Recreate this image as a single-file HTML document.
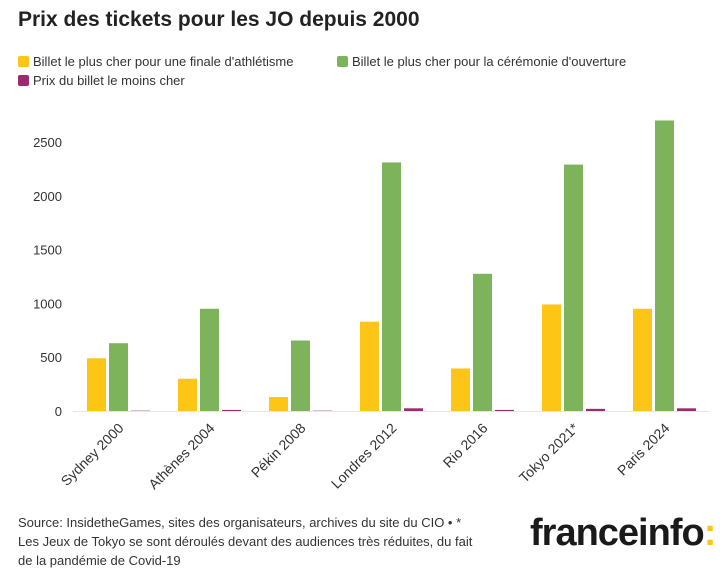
<!DOCTYPE html>
<html><head><meta charset="utf-8"><style>
body{margin:0;background:#fff;width:728px;height:587px;overflow:hidden;font-family:"Liberation Sans",sans-serif;color:#333;}
#title{position:absolute;left:18px;top:8px;font-size:21px;font-weight:bold;color:#222;}
.leg{position:absolute;font-size:13px;color:#333;display:flex;align-items:center;}
.sw{width:11px;height:11px;border-radius:2px;margin-right:4px;display:inline-block;}
#foot{position:absolute;left:18px;top:513px;font-size:13px;line-height:19px;color:#333;}
#logo{position:absolute;left:530px;top:512px;font-size:38px;font-weight:bold;color:#1a1a1a;letter-spacing:-1px;}
</style></head><body>
<div id="title">Prix des tickets pour les JO depuis 2000</div>
<div class="leg" style="left:18px;top:54px"><span class="sw" style="background:#fdc516"></span>Billet le plus cher pour une finale d'athlétisme</div>
<div class="leg" style="left:337px;top:54px"><span class="sw" style="background:#7db35a"></span>Billet le plus cher pour la cérémonie d'ouverture</div>
<div class="leg" style="left:18px;top:73px"><span class="sw" style="background:#9c2b6e"></span>Prix du billet le moins cher</div>
<svg id="chart" width="728" height="500" style="position:absolute;left:0;top:0"></svg>
<div id="foot">Source: InsidetheGames, sites des organisateurs, archives du site du CIO • *<br>Les Jeux de Tokyo se sont déroulés devant des audiences très réduites, du fait<br>de la pandémie de Covid-19</div>
<div id="logo">franceinfo<span style="color:#fdc516">:</span></div>
<script>
const categories=["Sydney 2000","Athènes 2004","Pékin 2008","Londres 2012","Rio 2016","Tokyo 2021*","Paris 2024"];
const athletics=[490,300,130,830,395,990,950];
const ceremony=[630,950,655,2310,1275,2290,2700];
const cheapest=[3,10,3,25,10,20,25];
const yTicks=[0,500,1000,1500,2000,2500];
const NS="http://www.w3.org/2000/svg";
const svg=document.getElementById('chart');
const x0=73,x1=710,y0=411,yTop=142,vTop=2500;
const y=v=>y0-(v/vTop)*(y0-yTop);
const gw=(x1-x0)/categories.length;
function mk(t,a){const e=document.createElementNS(NS,t);for(const k in a)e.setAttribute(k,a[k]);svg.appendChild(e);return e;}
yTicks.forEach(t=>{
  const tx=mk('text',{x:62,y:y(t)+5,'text-anchor':'end','font-size':13,fill:'#333','font-family':'Liberation Sans, sans-serif'});
  tx.textContent=t;
  
  
});
const base=mk('line',{x1:x0,x2:x1,y1:y0+0.5,y2:y0+0.5,stroke:'#e6e6e6'});


const series=[[athletics,'#fdc516','bar-athletics'],[ceremony,'#7db35a','bar-ceremony'],[cheapest,'#9c2b6e','bar-cheapest']];
categories.forEach((c,i)=>{
  const gx=x0+i*gw;
  series.forEach((s,j)=>{
    const v=s[0][i];const bx=gx+14+j*22;
    const r=mk('rect',{x:bx,y:y(v),width:19,height:y0-y(v),fill:s[1]});
    
    
  });
  const cx=gx+gw/2+6,cy=y0+18;
  const tx=mk('text',{x:cx,y:cy,'text-anchor':'end','font-size':14,fill:'#333','font-family':'Liberation Sans, sans-serif',transform:`rotate(-45 ${cx} ${cy})`});
  tx.textContent=c;
  
  
});
</script>
</body></html>
